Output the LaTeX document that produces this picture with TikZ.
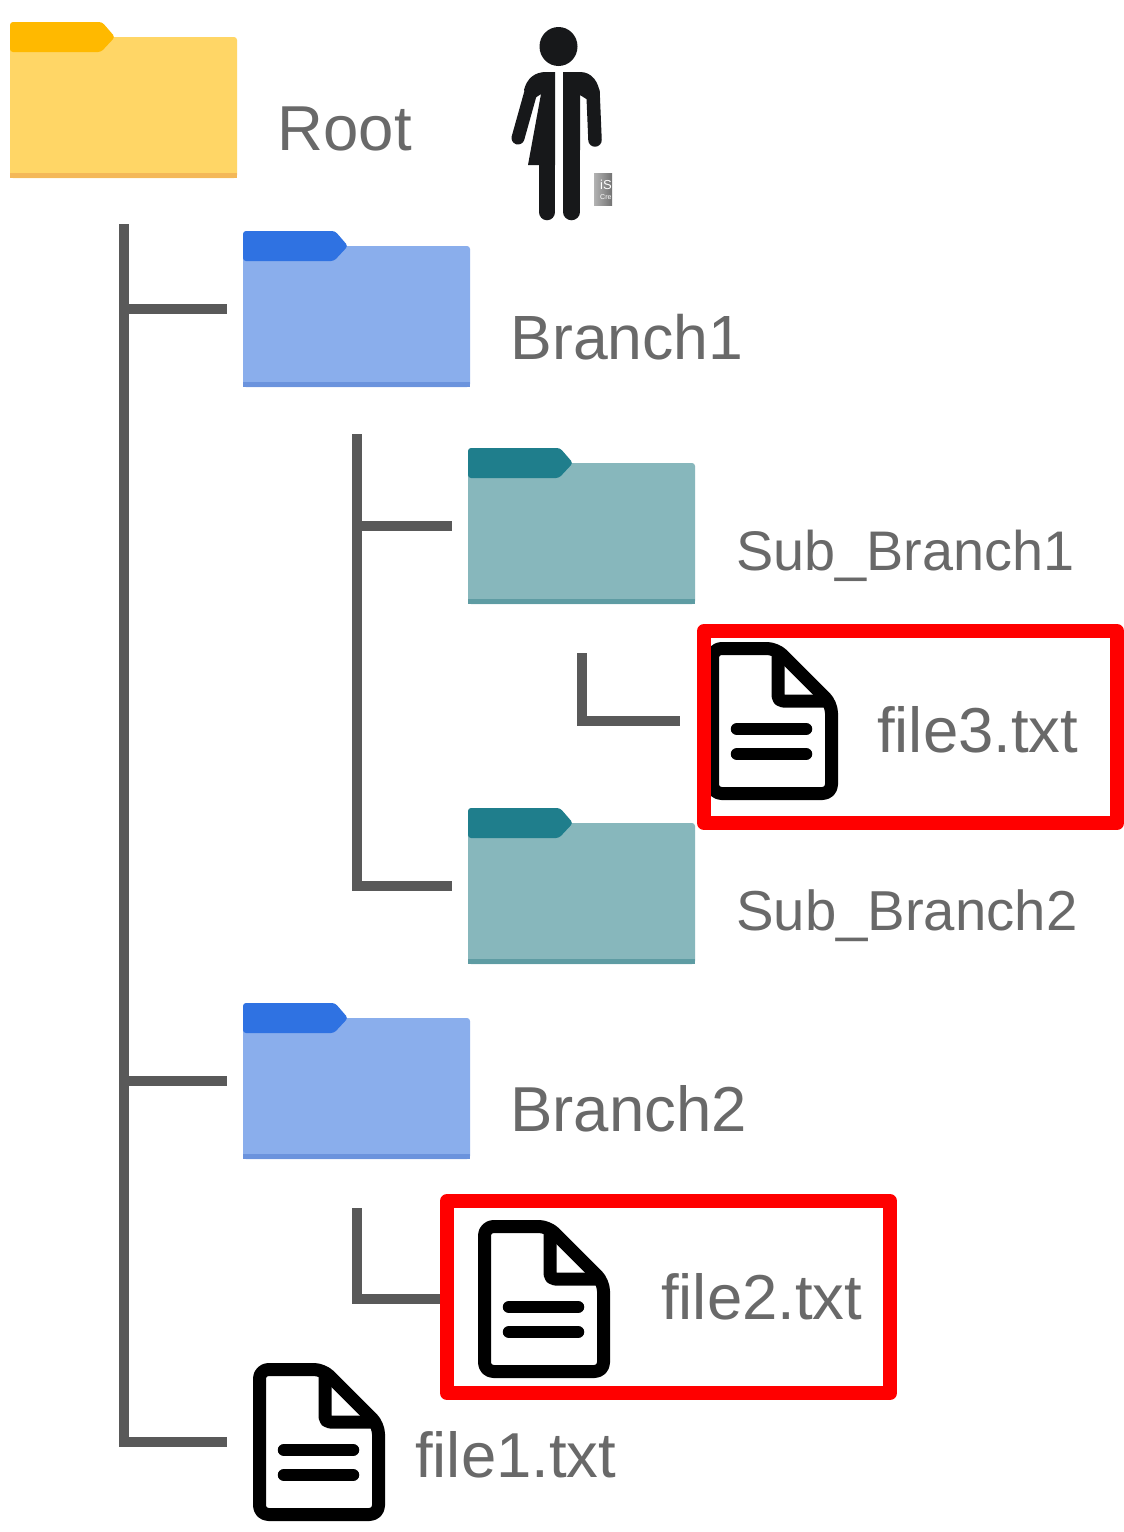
\documentclass[tikz,border=0pt]{standalone}
\usepackage{fontspec}
\setmainfont{Liberation Sans}
\definecolor{rootbody}{HTML}{FFD666}
\definecolor{roottab}{HTML}{FFB900}
\definecolor{rootband}{HTML}{F4B858}
\definecolor{bluebody}{HTML}{8AAEEC}
\definecolor{bluetab}{HTML}{2F72E2}
\definecolor{blueband}{HTML}{6B93DD}
\definecolor{tealbody}{HTML}{87B7BC}
\definecolor{tealtab}{HTML}{1F7E8C}
\definecolor{tealband}{HTML}{5E9CA3}
\definecolor{conngray}{HTML}{595959}
\definecolor{labelgray}{HTML}{696969}
\definecolor{figblack}{HTML}{17181A}
\tikzset{
  conn/.style={draw=conngray,line width=10.5pt,line cap=butt,line join=miter},
  redbox/.style={draw=red,line width=14pt,line join=round},
  lbl/.style={anchor=base west,inner sep=0pt,text=labelgray,font=\fontsize{63.5}{63.5}\selectfont},
  sublbl/.style={lbl,font=\fontsize{56.3}{56.3}\selectfont},
  slot/.style={inner sep=0pt,minimum width=#1},
  limb/.style={draw=figblack,line cap=round,line join=round}
}
% \fldr{node name}{left}{top}{body}{tab}{band}
\newcommand{\fldr}[6]{%
  \node[slot=227pt,minimum height=156pt] (#1) at (#2+113.5,#3+78) {};
  \begin{scope}[shift={(#2,#3)}]
    \fill[#4,rounded corners=3pt] (0,30) -- (0,15) -- (227,15) -- (227,156) -- (0,156) -- cycle;
    \fill[#5,rounded corners=3pt] (0,30) -- (0,0) -- (92,0) -- (105,15) -- (91,30) -- cycle;
    \fill[#6] (0,151) rectangle (227,156);
  \end{scope}}
% \docicon{node name}{left}{top}
\newcommand{\docicon}[3]{%
  \node[slot=132pt,minimum height=158pt] (#1) at (#2+66,#3+79) {};
  \begin{scope}[shift={(#2,#3)},line width=13pt,line cap=round,line join=round]
    \draw[rounded corners=9pt] (6.5,6.5) -- (70,6.5) -- (125.5,62) -- (125.5,151.5) -- (6.5,151.5) -- cycle;
    \draw[rounded corners=5pt] (72,10) -- (72,59) -- (120,59);
    \draw[line width=12.5pt] (31,87) -- (100,87);
    \draw[line width=12.5pt] (31,112) -- (100,112);
  \end{scope}}
\begin{document}
\begin{tikzpicture}[x=1pt,y=-1pt]
\useasboundingbox (0,0) rectangle (1124,1532);
\fill[white] (0,0) rectangle (1124,1532);

% connectors' free ends
\coordinate (maintop) at (124,224);
\coordinate (subtop) at (357,434);
\coordinate (l3top) at (582,653);
\coordinate (l2top) at (357,1208);

% folders and files
\fldr{root}{10}{22}{rootbody}{roottab}{rootband}
\fldr{branchA}{243}{231}{bluebody}{bluetab}{blueband}
\fldr{subA}{468}{448}{tealbody}{tealtab}{tealband}
\fldr{subB}{468}{808}{tealbody}{tealtab}{tealband}
\fldr{branchB}{243}{1003}{bluebody}{bluetab}{blueband}
\docicon{fileC}{706}{642}
\docicon{fileB}{478}{1220}
\docicon{fileA}{253}{1363}

% tree lines
\draw[conn] (maintop) |- ([xshift=-26]fileA.west);
\draw[conn] (maintop |- branchA.west) -- ([xshift=-16]branchA.west);
\draw[conn] (maintop |- branchB.west) -- ([xshift=-16]branchB.west);
\draw[conn] (subtop) |- ([xshift=-16]subB.west);
\draw[conn] (subtop |- subA.west) -- ([xshift=-16]subA.west);
\draw[conn] (l3top) |- ([xshift=-26]fileC.west);
\draw[conn] (l2top) |- ([xshift=-34]fileB.west);

% labels
\node[lbl] (rootlabel) at (277.5,150) {Root};
\node[lbl,font=\fontsize{62.5}{62.5}\selectfont] (branchAlabel) at (510.5,359) {Branch1};
\node[sublbl,font=\fontsize{55.8}{55.8}\selectfont] (subAlabel) at (736,570) {Sub\_Branch1};
\node[lbl] (fileClabel) at (877,752) {file3.txt};
\node[sublbl] (subBlabel) at (736,930) {Sub\_Branch2};
\node[lbl] (branchBlabel) at (510,1131) {Branch2};
\node[lbl] (fileBlabel) at (661,1319) {file2.txt};
\node[lbl] (fileAlabel) at (415,1477) {file1.txt};

% highlight boxes
\node[redbox,minimum width=413pt,minimum height=192pt,inner sep=0pt] (boxC) at (910.5,727) {};
\node[redbox,minimum width=443pt,minimum height=192pt,inner sep=0pt] (boxB) at (668.5,1297) {};

% person figure
\fill[figblack] (558.5,46.5) ellipse (19 and 19.5);
% left half: shoulder, skirt, leg, arm
\fill[figblack] (555,72) -- (555,165) -- (528,165) -- (541,94) -- (532,100) -- (524,90)
  .. controls (527,78) and (535,72) .. (546,72) -- cycle;
\draw[limb,line width=16.5pt] (547,150) -- (547,212);
\draw[limb,line width=13pt] (532,88) -- (518,138);
% right half: shoulder, leg, arm
\fill[figblack] (563,72) -- (580,72) .. controls (592,72) and (599,82) .. (600,95)
  -- (588,100) -- (580,95) -- (580,150) -- (563,150) -- cycle;
\draw[limb,line width=16.5pt] (571.5,150) -- (571.5,212);
\draw[limb,line width=13.5pt] (593,92) -- (595,140);
\begin{scope}
  \clip (594,173) rectangle (612,205);
  \fill[left color=gray!60,right color=gray!90!black] (594,173) rectangle (612,205);
  \node[inner sep=0pt,anchor=base west,text=white,font=\fontsize{13}{13}\selectfont] (badgea) at (600,189) {iS};
  \node[inner sep=0pt,anchor=base west,text=white,font=\fontsize{7}{7}\selectfont] (badgeb) at (600,199) {Cre};
\end{scope}
\end{tikzpicture}
\end{document}
